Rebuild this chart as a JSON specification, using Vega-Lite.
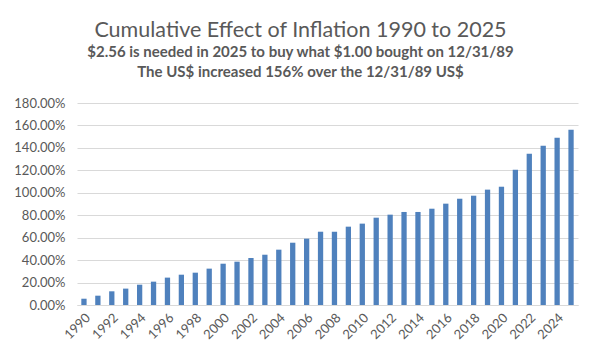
{
  "$schema": "https://vega.github.io/schema/vega-lite/v6.json",
  "width": 501,
  "height": 202,
  "autosize": {"type": "none"},
  "padding": {"left": 77, "top": 103, "right": 23, "bottom": 56},
  "background": "white",
  "title": {
    "text": "Cumulative Effect of Inflation 1990 to 2025",
    "subtitle": ["$2.56 is needed in 2025 to buy what $1.00 bought on 12/31/89", "The US$ increased 156% over the 12/31/89 US$"],
    "anchor": "middle",
    "dx": -27,
    "offset": 17,
    "font": "Lato",
    "fontSize": 21.5,
    "fontWeight": "normal",
    "color": "#595959",
    "subtitleFont": "Lato",
    "subtitleFontSize": 15,
    "subtitleFontWeight": "bold",
    "subtitleColor": "#595959",
    "subtitlePadding": 4,
    "subtitleLineHeight": 20
  },
  "data": {
    "values": [
      {"year": "1990", "value": 0.056},
      {"year": "1991", "value": 0.083},
      {"year": "1992", "value": 0.122},
      {"year": "1993", "value": 0.146},
      {"year": "1994", "value": 0.181},
      {"year": "1995", "value": 0.208},
      {"year": "1996", "value": 0.244},
      {"year": "1997", "value": 0.270},
      {"year": "1998", "value": 0.288},
      {"year": "1999", "value": 0.324},
      {"year": "2000", "value": 0.368},
      {"year": "2001", "value": 0.386},
      {"year": "2002", "value": 0.419},
      {"year": "2003", "value": 0.448},
      {"year": "2004", "value": 0.493},
      {"year": "2005", "value": 0.555},
      {"year": "2006", "value": 0.591},
      {"year": "2007", "value": 0.653},
      {"year": "2008", "value": 0.653},
      {"year": "2009", "value": 0.698},
      {"year": "2010", "value": 0.725},
      {"year": "2011", "value": 0.778},
      {"year": "2012", "value": 0.805},
      {"year": "2013", "value": 0.829},
      {"year": "2014", "value": 0.829},
      {"year": "2015", "value": 0.858},
      {"year": "2016", "value": 0.903},
      {"year": "2017", "value": 0.947},
      {"year": "2018", "value": 0.974},
      {"year": "2019", "value": 1.028},
      {"year": "2020", "value": 1.054},
      {"year": "2021", "value": 1.206},
      {"year": "2022", "value": 1.348},
      {"year": "2023", "value": 1.420},
      {"year": "2024", "value": 1.491},
      {"year": "2025", "value": 1.562}
    ]
  },
  "mark": {"type": "bar", "color": "#4F81BD"},
  "encoding": {
    "x": {
      "field": "year",
      "type": "ordinal",
      "scale": {"paddingInner": 0.62, "paddingOuter": 0.31},
      "axis": {
        "title": null,
        "values": ["1990","1992","1994","1996","1998","2000","2002","2004","2006","2008","2010","2012","2014","2016","2018","2020","2022","2024"],
        "labelAngle": -45,
        "labelFont": "Lato",
        "labelFontSize": 13,
        "labelColor": "#595959",
        "labelPadding": 6,
        "ticks": false,
        "domainColor": "#d9d9d9",
        "grid": false
      }
    },
    "y": {
      "field": "value",
      "type": "quantitative",
      "scale": {"domain": [0, 1.8], "nice": false},
      "axis": {
        "title": null,
        "format": ".2%",
        "values": [0, 0.2, 0.4, 0.6, 0.8, 1.0, 1.2, 1.4, 1.6, 1.8],
        "labelFont": "Lato",
        "labelFontSize": 13,
        "labelColor": "#595959",
        "labelPadding": 12,
        "ticks": false,
        "domain": false,
        "grid": true,
        "gridColor": "#d9d9d9"
      }
    }
  },
  "config": {"view": {"stroke": null}}
}
